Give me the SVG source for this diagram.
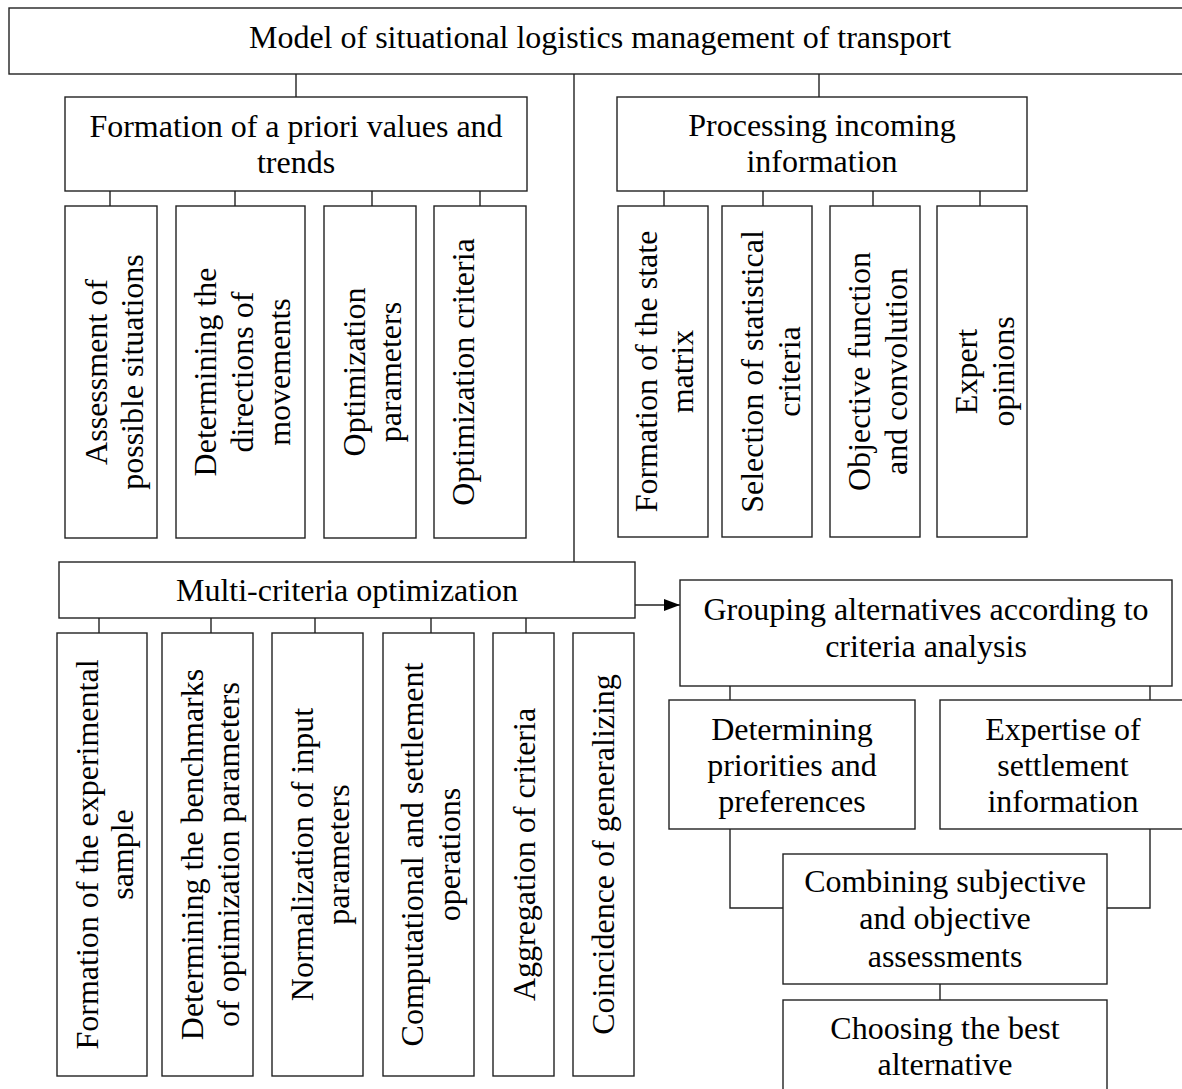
<svg xmlns="http://www.w3.org/2000/svg" width="1182" height="1089" viewBox="0 0 1182 1089">
  <style>
    .box { fill: #ffffff; stroke: #222222; stroke-width: 1.4; }
    .ln { fill: none; stroke: #222222; stroke-width: 1.4; }
    text { font-family: "Liberation Serif", "Times New Roman", serif; font-size: 32px; fill: #000000; text-anchor: middle; }
  </style>
  <defs>
    <marker id="arrow" markerWidth="16" markerHeight="12" refX="16" refY="6" orient="auto" markerUnits="userSpaceOnUse">
      <path d="M0,0 L16,6 L0,12 Z" fill="#000000"/>
    </marker>
  </defs>

  <rect width="1182" height="1089" fill="#ffffff"/>

  <!-- connectors -->
  <g id="connectors">
    <line class="ln" x1="296" y1="74" x2="296" y2="97"/>
    <line class="ln" x1="819" y1="74" x2="819" y2="97"/>
    <line class="ln" x1="574" y1="74" x2="574" y2="562"/>
    <!-- a priori branch -->
    <line class="ln" x1="110" y1="191" x2="110" y2="206"/>
    <line class="ln" x1="235" y1="191" x2="235" y2="206"/>
    <line class="ln" x1="372" y1="191" x2="372" y2="206"/>
    <line class="ln" x1="480" y1="191" x2="480" y2="206"/>
    <!-- incoming information branch -->
    <line class="ln" x1="664" y1="191" x2="664" y2="206"/>
    <line class="ln" x1="763" y1="191" x2="763" y2="206"/>
    <line class="ln" x1="873" y1="191" x2="873" y2="206"/>
    <line class="ln" x1="980" y1="191" x2="980" y2="206"/>
    <!-- optimization branch -->
    <line class="ln" x1="99" y1="618" x2="99" y2="633"/>
    <line class="ln" x1="211" y1="618" x2="211" y2="633"/>
    <line class="ln" x1="315" y1="618" x2="315" y2="633"/>
    <line class="ln" x1="431" y1="618" x2="431" y2="633"/>
    <line class="ln" x1="526" y1="618" x2="526" y2="633"/>
    <line class="ln" x1="635" y1="605" x2="680" y2="605" marker-end="url(#arrow)"/>
    <!-- alternatives branch -->
    <line class="ln" x1="730" y1="686" x2="730" y2="700"/>
    <line class="ln" x1="1150" y1="686" x2="1150" y2="700"/>
    <path class="ln" d="M730,829 V908 H783"/>
    <path class="ln" d="M1150,829 V908 H1107"/>
    <line class="ln" x1="940" y1="984" x2="940" y2="1000"/>
  </g>

  <g id="root">
    <rect class="box" x="9" y="8" width="1180" height="66"/>
    <text x="600" y="48">Model of situational logistics management of transport</text>
  </g>

  <g id="apriori">
    <rect class="box" x="65" y="97" width="462" height="94"/>
    <text><tspan x="296" y="137">Formation of a priori values and</tspan><tspan x="296" y="173">trends</tspan></text>
  </g>
  <g id="incoming">
    <rect class="box" x="617" y="97" width="410" height="94"/>
    <text><tspan x="822" y="136">Processing incoming</tspan><tspan x="822" y="172">information</tspan></text>
  </g>

  <g id="assessment">
    <rect class="box" x="65" y="206" width="92" height="332"/>
    <text transform="translate(0,372) rotate(-90)"><tspan x="0" y="107">Assessment of</tspan><tspan x="0" y="143">possible situations</tspan></text>
  </g>
  <g id="directions">
    <rect class="box" x="176" y="206" width="129" height="332"/>
    <text transform="translate(0,372) rotate(-90)"><tspan x="0" y="216">Determining the</tspan><tspan x="0" y="253">directions of</tspan><tspan x="0" y="290">movements</tspan></text>
  </g>
  <g id="opt-params">
    <rect class="box" x="324" y="206" width="92" height="332"/>
    <text transform="translate(0,372) rotate(-90)"><tspan x="0" y="365">Optimization</tspan><tspan x="0" y="401">parameters</tspan></text>
  </g>
  <g id="opt-criteria">
    <rect class="box" x="434" y="206" width="92" height="332"/>
    <text transform="translate(0,372) rotate(-90)"><tspan x="0" y="474">Optimization criteria</tspan></text>
  </g>

  <g id="state-matrix">
    <rect class="box" x="618" y="206" width="90" height="331"/>
    <text transform="translate(0,371.5) rotate(-90)"><tspan x="0" y="657">Formation of the state</tspan><tspan x="0" y="693">matrix</tspan></text>
  </g>
  <g id="stat-criteria">
    <rect class="box" x="722" y="206" width="90" height="331"/>
    <text transform="translate(0,371.5) rotate(-90)"><tspan x="0" y="763">Selection of statistical</tspan><tspan x="0" y="800">criteria</tspan></text>
  </g>
  <g id="objective">
    <rect class="box" x="830" y="206" width="90" height="331"/>
    <text transform="translate(0,371.5) rotate(-90)"><tspan x="0" y="870">Objective function</tspan><tspan x="0" y="907">and convolution</tspan></text>
  </g>
  <g id="expert">
    <rect class="box" x="937" y="206" width="90" height="331"/>
    <text transform="translate(0,371.5) rotate(-90)"><tspan x="0" y="977">Expert</tspan><tspan x="0" y="1014">opinions</tspan></text>
  </g>

  <g id="multi">
    <rect class="box" x="59" y="562" width="576" height="56"/>
    <text x="347" y="601">Multi-criteria optimization</text>
  </g>

  <g id="sample">
    <rect class="box" x="57" y="633" width="90" height="443"/>
    <text transform="translate(0,854.5) rotate(-90)"><tspan x="0" y="98">Formation of the experimental</tspan><tspan x="0" y="133">sample</tspan></text>
  </g>
  <g id="benchmarks">
    <rect class="box" x="162" y="633" width="91" height="443"/>
    <text transform="translate(0,854.5) rotate(-90)"><tspan x="0" y="203">Determining the benchmarks</tspan><tspan x="0" y="239">of optimization parameters</tspan></text>
  </g>
  <g id="normalization">
    <rect class="box" x="272" y="633" width="91" height="443"/>
    <text transform="translate(0,854.5) rotate(-90)"><tspan x="0" y="313">Normalization of input</tspan><tspan x="0" y="349">parameters</tspan></text>
  </g>
  <g id="computational">
    <rect class="box" x="383" y="633" width="91" height="443"/>
    <text transform="translate(0,854.5) rotate(-90)"><tspan x="0" y="423">Computational and settlement</tspan><tspan x="0" y="460">operations</tspan></text>
  </g>
  <g id="aggregation">
    <rect class="box" x="493" y="633" width="61" height="443"/>
    <text transform="translate(0,854.5) rotate(-90)"><tspan x="0" y="535">Aggregation of criteria</tspan></text>
  </g>
  <g id="coincidence">
    <rect class="box" x="573" y="633" width="61" height="443"/>
    <text transform="translate(0,854.5) rotate(-90)"><tspan x="0" y="614">Coincidence of generalizing</tspan></text>
  </g>

  <g id="grouping">
    <rect class="box" x="680" y="580" width="492" height="106"/>
    <text><tspan x="926" y="620">Grouping alternatives according to</tspan><tspan x="926" y="657">criteria analysis</tspan></text>
  </g>
  <g id="priorities">
    <rect class="box" x="669" y="700" width="246" height="129"/>
    <text><tspan x="792" y="740">Determining</tspan><tspan x="792" y="776">priorities and</tspan><tspan x="792" y="812">preferences</tspan></text>
  </g>
  <g id="expertise">
    <rect class="box" x="940" y="700" width="250" height="129"/>
    <text><tspan x="1063" y="740">Expertise of</tspan><tspan x="1063" y="776">settlement</tspan><tspan x="1063" y="812">information</tspan></text>
  </g>
  <g id="combining">
    <rect class="box" x="783" y="854" width="324" height="130"/>
    <text><tspan x="945" y="892">Combining subjective</tspan><tspan x="945" y="929">and objective</tspan><tspan x="945" y="967">assessments</tspan></text>
  </g>
  <g id="choosing">
    <rect class="box" x="783" y="1000" width="324" height="95"/>
    <text><tspan x="945" y="1039">Choosing the best</tspan><tspan x="945" y="1075">alternative</tspan></text>
  </g>
</svg>
